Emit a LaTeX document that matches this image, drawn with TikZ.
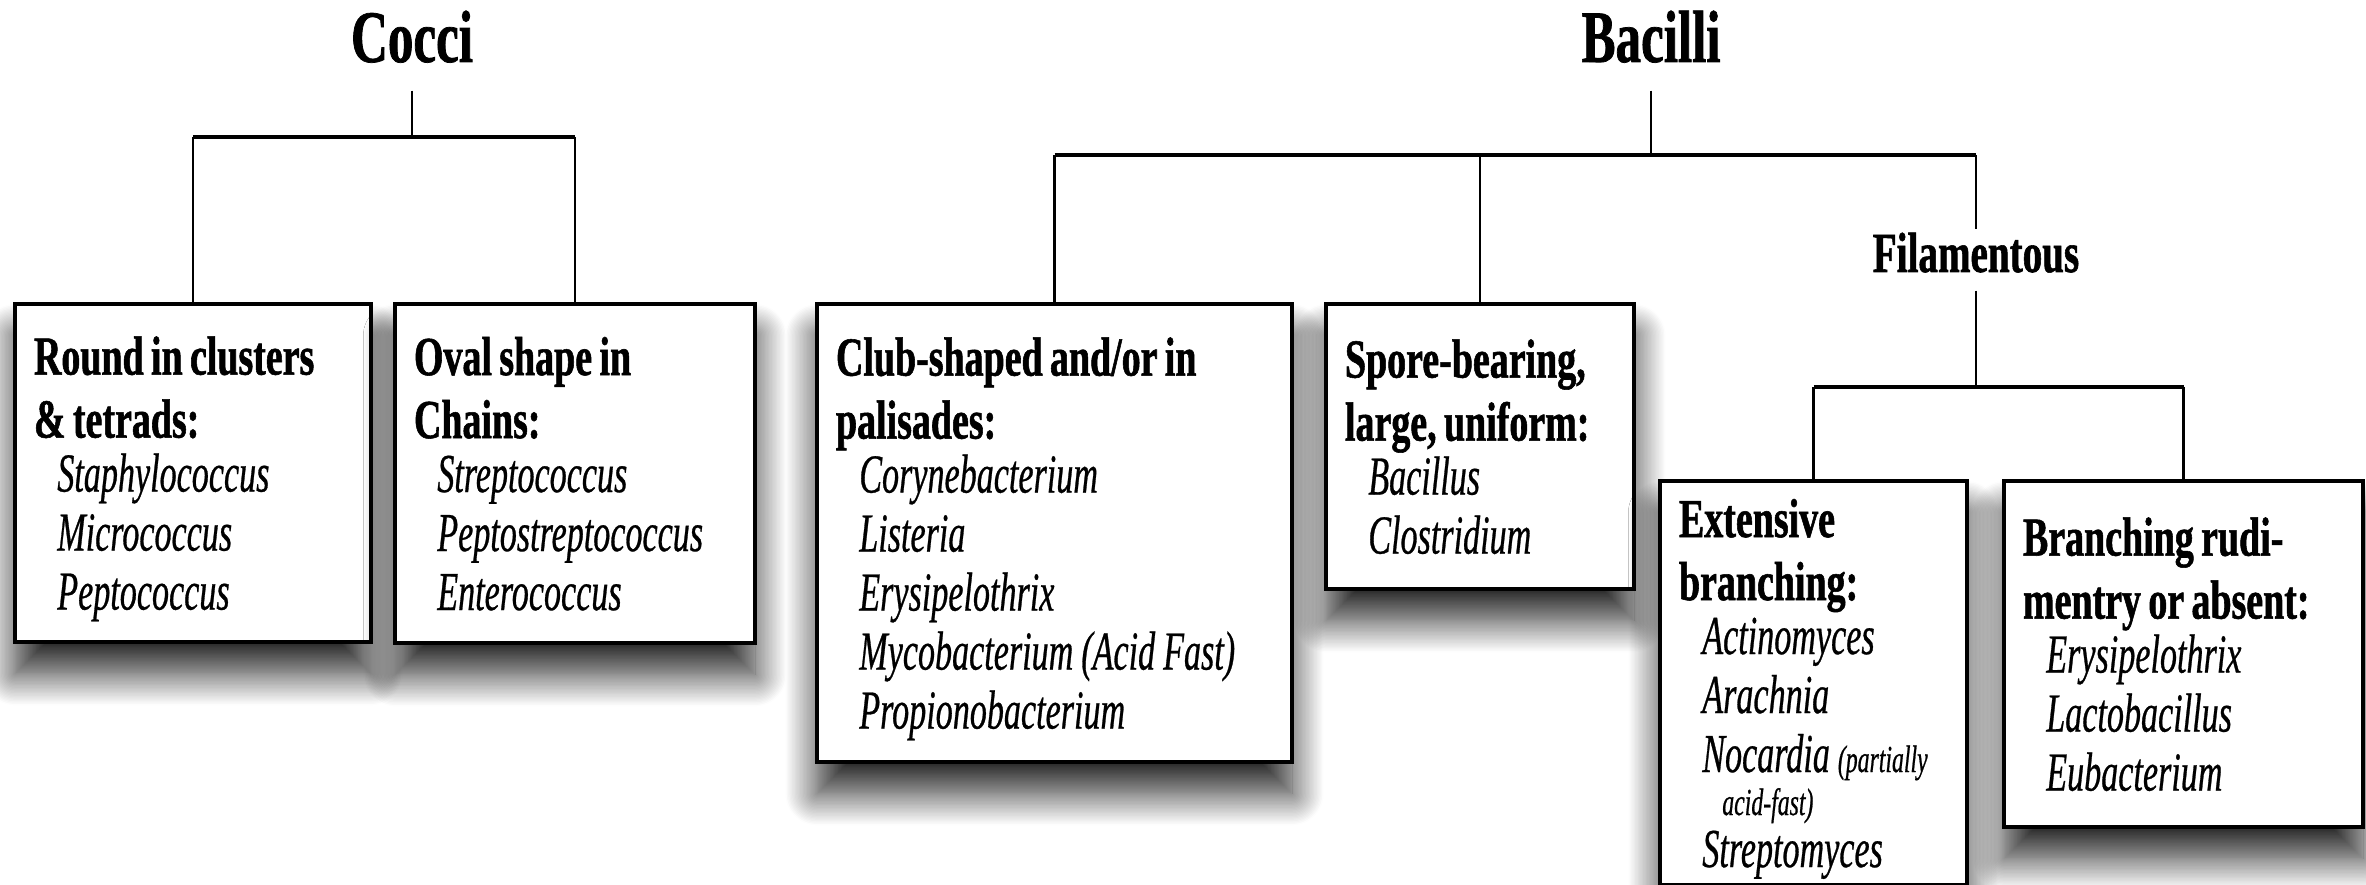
\documentclass[tikz,border=0pt]{standalone}
\usepackage{fontspec}
\usepackage{tikz}
\usetikzlibrary{positioning,shadows.blur}
\newfontfamily\headface[FakeStretch=0.69,FakeBold=1]{Liberation Serif}
\newfontfamily\genusface[FakeStretch=0.62,FakeBold=0.5]{Liberation Serif}
\newcommand{\hd}{\headface\bfseries\spaceskip=2.2pt plus 1pt\relax}
\newcommand{\gen}[1]{\hspace*{7pt}\raisebox{0pt}[\height][0pt]{\genusface\itshape\spaceskip=2.4pt plus 1pt\relax #1}}

\begin{document}
\begin{tikzpicture}[x=0.3pt, y=-0.3pt,
  title/.style={font=\hd\fontsize{22.2}{24}\selectfont, inner xsep=0pt, inner ysep=1pt, text depth=7.4pt},
  sub/.style={font=\hd\fontsize{17}{19}\selectfont, inner xsep=0pt, inner ysep=1pt, text depth=4.4pt},
  box/.style={draw, line width=1.2pt, fill=white, align=left, inner xsep=5.7pt, inner ysep=3pt,
              anchor=north west, font=\fontsize{16.5}{17.7}\selectfont,
              blur shadow={shadow xshift=0pt, shadow yshift=-9.5pt, shadow blur radius=9.5pt,
                           shadow blur steps=24, shadow opacity=85}},
  stem/.style={line width=0.8pt},
  bar/.style={line width=1.2pt}]

\useasboundingbox (0,0) rectangle (2366,885);

\node[title, anchor=base] (cocci) at (412,62) {Cocci};
\node[title, anchor=base] (bacilli) at (1651,62) {Bacilli};
\node[sub, anchor=base] (fil) at (1976,272) {Filamentous};

\node[box, text width=95.4pt, minimum height=101.4pt] (b1) at (13,302)
  {{\hd Round in clusters\\[1.2pt]\& tetrads:}\\[-1.5pt]\gen{Staphylococcus}\\\gen{Micrococcus}\\\gen{Peptococcus}};
\node[box, right=6pt of b1.north east, anchor=north west, text width=96.6pt, minimum height=101.7pt] (b2)
  {{\hd Oval shape in\\[1.2pt]Chains:}\\[-1.5pt]\gen{Streptococcus}\\\gen{Peptostreptococcus}\\\gen{Enterococcus}};
\node[box, text width=131.1pt, minimum height=137.4pt] (b3) at (815,302)
  {{\hd Club-shaped and/or in\\[1.2pt]palisades:}\\[-1.5pt]\gen{Corynebacterium}\\\gen{Listeria}\\\gen{Erysipelothrix}\\
   \gen{Mycobacterium~(Acid~Fast)}\\\gen{Propionobacterium}};
\node[box, right=9pt of b3.north east, anchor=north west, text width=81pt, minimum height=85.5pt] (b4)
  {{\hd Spore-bearing,\\[1.2pt]large, uniform:}\\[-1.5pt]\gen{Bacillus}\\\gen{Clostridium}};
\node[box, text width=80.7pt, minimum height=121.2pt] (b5) at (1658,479)
  {{\hd Extensive\\[1.2pt]branching:}\\[-1.5pt]\gen{Actinomyces}\\\gen{Arachnia}\\
   \gen{Nocardia~{\fontsize{11.5}{12}\selectfont(partially}}\\[-4.8pt]\hspace*{6pt}\gen{\fontsize{11.5}{12}\selectfont acid-fast)}\\[-2.1pt]
   \gen{Streptomyces}};
\node[box, right=9.9pt of b5.north east, anchor=north west, text width=96.3pt, minimum height=103.8pt] (b6)
  {{\hd Branching rudi-\\[1.2pt]mentry or absent:}\\[-1.5pt]\gen{Erysipelothrix}\\\gen{Lactobacillus}\\\gen{Eubacterium}};

\coordinate (cbar) at (0,137);
\coordinate (bbar) at (0,155);
\coordinate (fbar) at (0,387);

% cocci branch
\draw[stem] (cocci) -- (cocci |- cbar);
\draw[bar] (b1 |- cbar) -- (b2 |- cbar);
\draw[stem] (b1 |- cbar) -- (b1);
\draw[stem] (b2 |- cbar) -- (b2);

% bacilli branch
\draw[stem] (bacilli) -- (bacilli |- bbar);
\draw[bar] (b3 |- bbar) -- (fil |- bbar);
\draw[stem] (b3 |- bbar) -- (b3);
\draw[stem] (b4 |- bbar) -- (b4);
\draw[stem] (fil |- bbar) -- (fil);

% filamentous
\draw[stem] (fil) -- (fil |- fbar);
\draw[bar] (b5 |- fbar) -- (b6 |- fbar);
\draw[stem] (b5 |- fbar) -- (b5);
\draw[stem] (b6 |- fbar) -- (b6);
\end{tikzpicture}
\end{document}
